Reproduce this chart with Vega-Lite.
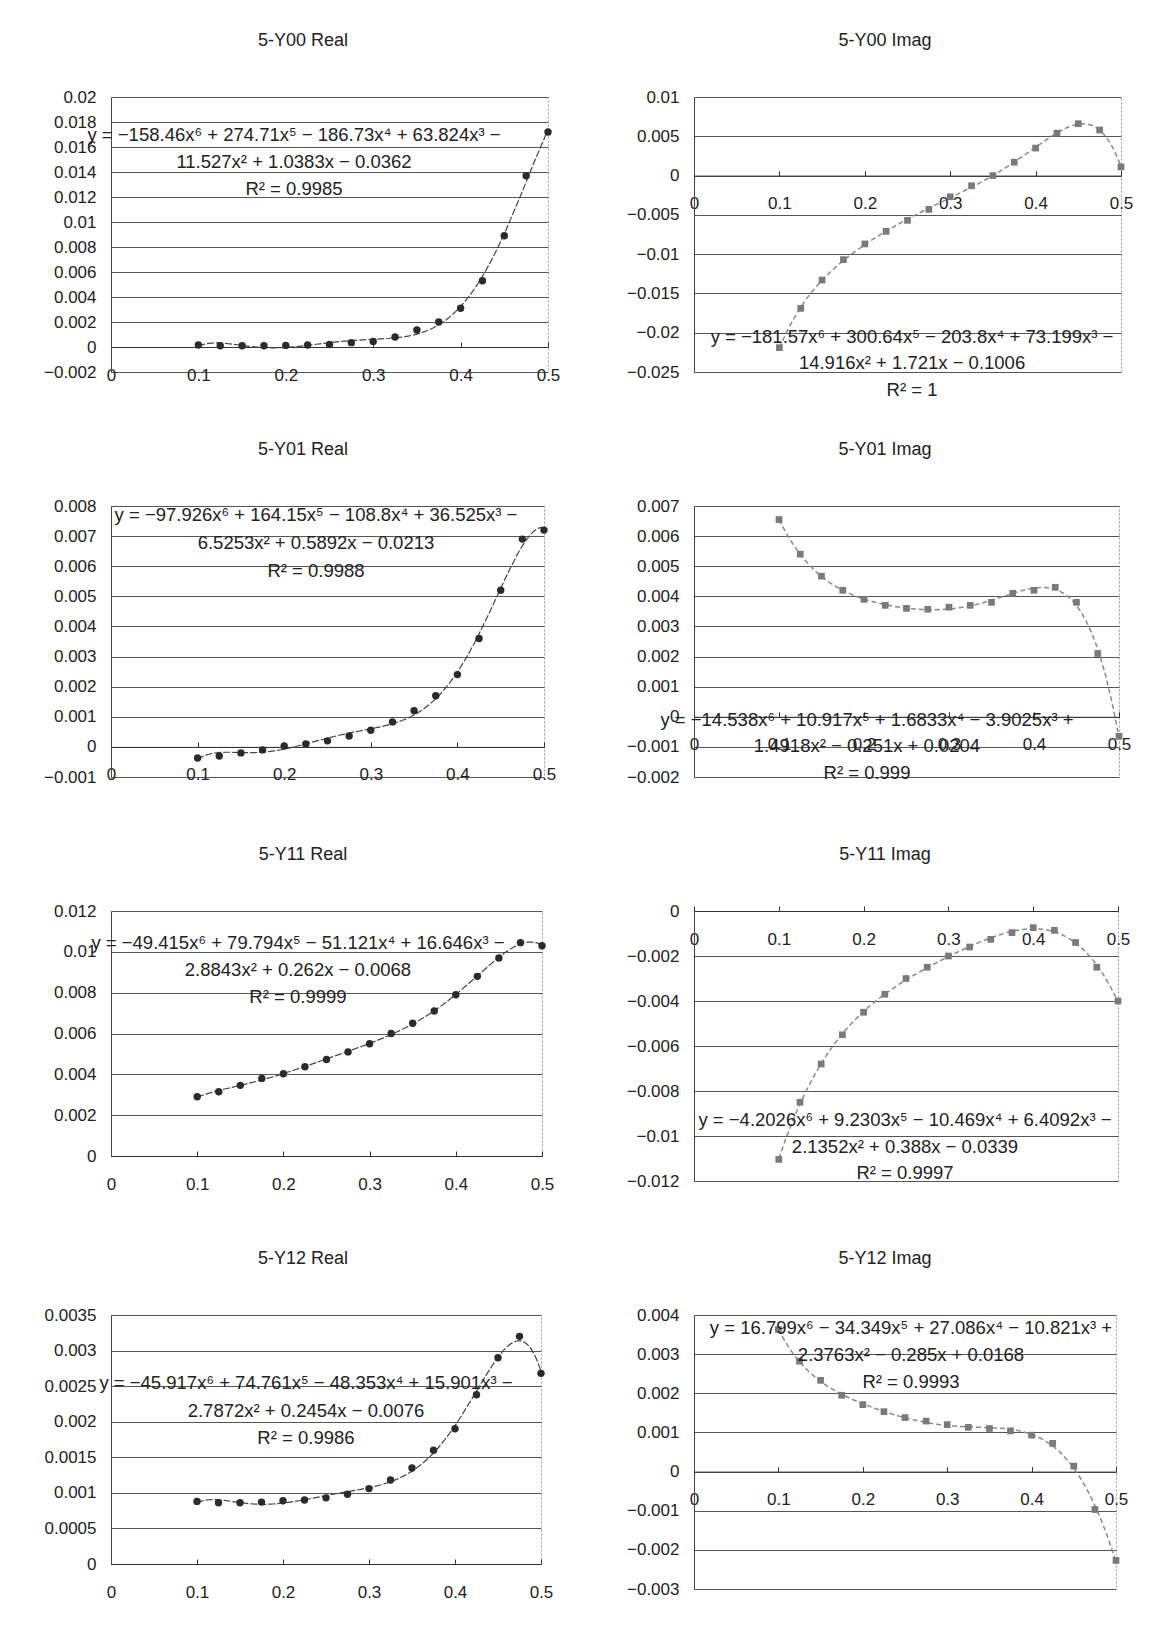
{
  "$schema": "https://vega.github.io/schema/vega-lite/v6.json",
  "autosize": {"type": "pad"},
  "padding": {"left": 0, "top": 31, "right": 5, "bottom": 5},
  "background": "white",
  "columns": 2,
  "bounds": "flush",
  "align": "each",
  "spacing": {"row": 134, "column": 146},
  "datasets": {
    "y00r": [{"x":0.1,"y":0.00016},{"x":0.125,"y":0.0001},{"x":0.15,"y":0.0001},{"x":0.175,"y":0.0001},{"x":0.2,"y":0.00013},{"x":0.225,"y":0.00016},{"x":0.25,"y":0.0002},{"x":0.275,"y":0.00035},{"x":0.3,"y":0.00045},{"x":0.325,"y":0.0008},{"x":0.35,"y":0.00136},{"x":0.375,"y":0.002},{"x":0.4,"y":0.0031},{"x":0.425,"y":0.0053},{"x":0.45,"y":0.0089},{"x":0.475,"y":0.0137},{"x":0.5,"y":0.0172}],
    "y00i": [{"x":0.1,"y":-0.0219},{"x":0.125,"y":-0.0169},{"x":0.15,"y":-0.0133},{"x":0.175,"y":-0.0107},{"x":0.2,"y":-0.0087},{"x":0.225,"y":-0.0071},{"x":0.25,"y":-0.0057},{"x":0.275,"y":-0.0043},{"x":0.3,"y":-0.0027},{"x":0.325,"y":-0.0013},{"x":0.35,"y":0.0},{"x":0.375,"y":0.0017},{"x":0.4,"y":0.0035},{"x":0.425,"y":0.0054},{"x":0.45,"y":0.0066},{"x":0.475,"y":0.0058},{"x":0.5,"y":0.0011}],
    "y01r": [{"x":0.1,"y":-0.00037},{"x":0.125,"y":-0.0003},{"x":0.15,"y":-0.0002},{"x":0.175,"y":-0.0001},{"x":0.2,"y":0.00003},{"x":0.225,"y":0.0001},{"x":0.25,"y":0.0002},{"x":0.275,"y":0.00036},{"x":0.3,"y":0.00055},{"x":0.325,"y":0.00083},{"x":0.35,"y":0.0012},{"x":0.375,"y":0.0017},{"x":0.4,"y":0.0024},{"x":0.425,"y":0.0036},{"x":0.45,"y":0.0052},{"x":0.475,"y":0.0069},{"x":0.5,"y":0.0072}],
    "y01i": [{"x":0.1,"y":0.00655},{"x":0.125,"y":0.0054},{"x":0.15,"y":0.00467},{"x":0.175,"y":0.0042},{"x":0.2,"y":0.0039},{"x":0.225,"y":0.0037},{"x":0.25,"y":0.0036},{"x":0.275,"y":0.00357},{"x":0.3,"y":0.00364},{"x":0.325,"y":0.0037},{"x":0.35,"y":0.0038},{"x":0.375,"y":0.0041},{"x":0.4,"y":0.0042},{"x":0.425,"y":0.0043},{"x":0.45,"y":0.0038},{"x":0.475,"y":0.0021},{"x":0.5,"y":-0.00065}],
    "y11r": [{"x":0.1,"y":0.0029},{"x":0.125,"y":0.00315},{"x":0.15,"y":0.00346},{"x":0.175,"y":0.0038},{"x":0.2,"y":0.00403},{"x":0.225,"y":0.00437},{"x":0.25,"y":0.00473},{"x":0.275,"y":0.0051},{"x":0.3,"y":0.0055},{"x":0.325,"y":0.006},{"x":0.35,"y":0.0065},{"x":0.375,"y":0.0071},{"x":0.4,"y":0.0079},{"x":0.425,"y":0.0088},{"x":0.45,"y":0.0097},{"x":0.475,"y":0.01045},{"x":0.5,"y":0.0103}],
    "y11i": [{"x":0.1,"y":-0.01104},{"x":0.125,"y":-0.0085},{"x":0.15,"y":-0.0068},{"x":0.175,"y":-0.0055},{"x":0.2,"y":-0.0045},{"x":0.225,"y":-0.0037},{"x":0.25,"y":-0.003},{"x":0.275,"y":-0.0025},{"x":0.3,"y":-0.002},{"x":0.325,"y":-0.0016},{"x":0.35,"y":-0.00126},{"x":0.375,"y":-0.00096},{"x":0.4,"y":-0.00074},{"x":0.425,"y":-0.00086},{"x":0.45,"y":-0.0014},{"x":0.475,"y":-0.0025},{"x":0.5,"y":-0.004}],
    "y12r": [{"x":0.1,"y":0.00088},{"x":0.125,"y":0.00086},{"x":0.15,"y":0.00086},{"x":0.175,"y":0.00087},{"x":0.2,"y":0.00089},{"x":0.225,"y":0.0009},{"x":0.25,"y":0.00093},{"x":0.275,"y":0.00098},{"x":0.3,"y":0.00106},{"x":0.325,"y":0.00118},{"x":0.35,"y":0.00135},{"x":0.375,"y":0.0016},{"x":0.4,"y":0.0019},{"x":0.425,"y":0.00238},{"x":0.45,"y":0.0029},{"x":0.475,"y":0.0032},{"x":0.5,"y":0.00268}],
    "y12i": [{"x":0.1,"y":0.00363},{"x":0.125,"y":0.00282},{"x":0.15,"y":0.00233},{"x":0.175,"y":0.00195},{"x":0.2,"y":0.00171},{"x":0.225,"y":0.00153},{"x":0.25,"y":0.00138},{"x":0.275,"y":0.00129},{"x":0.3,"y":0.0012},{"x":0.325,"y":0.00113},{"x":0.35,"y":0.0011},{"x":0.375,"y":0.00104},{"x":0.4,"y":0.00093},{"x":0.425,"y":0.00072},{"x":0.45,"y":0.00014},{"x":0.475,"y":-0.00097},{"x":0.5,"y":-0.00227}],
    "one": [{}]
  },
  "concat": [
    {
      "width": 437, "height": 275,
      "title": {"text": "5-Y00 Real", "dx": -26.5},
      "data": {"name": "y00r"},
      "layer": [
        {"transform": [{"regression": "y", "on": "x", "method": "poly", "order": 6}],
         "mark": {"type": "line", "color": "#444", "strokeWidth": 1.2, "strokeDash": [7, 2]},
         "encoding": {
           "x": {"field": "x", "type": "quantitative", "scale": {"domain": [0, 0.5], "nice": false, "zero": false}, "axis": {"title": null, "values": [0, 0.1, 0.2, 0.3, 0.4, 0.5], "tickCount": 50, "format": "~g", "offset": -25}},
           "y": {"field": "y", "type": "quantitative", "scale": {"domain": [-0.002, 0.02], "nice": false, "zero": false}, "axis": {"title": null, "values": [-0.002, 0, 0.002, 0.004, 0.006, 0.008, 0.01, 0.012, 0.014, 0.016, 0.018, 0.02], "tickCount": 50, "format": "~g", "minExtent": 110, "maxExtent": 110}}
         }},
        {"mark": {"type": "point", "shape": "circle", "filled": true, "color": "#2b2b2b", "size": 55, "opacity": 1},
         "encoding": {"x": {"field": "x", "type": "quantitative"}, "y": {"field": "y", "type": "quantitative"}}},
        {"data": {"name": "one"},
         "mark": {"type": "text", "align": "center", "baseline": "middle", "fontSize": 18.5, "lineHeight": 27, "color": "#222",
                  "text": ["y = −158.46x⁶ + 274.71x⁵ − 186.73x⁴ + 63.824x³ −", "11.527x² + 1.0383x − 0.0362", "R² = 0.9985"]},
         "encoding": {"x": {"datum": 0.2094}, "y": {"datum": 0.01696}}}
      ]
    },
    {
      "width": 427, "height": 275,
      "title": {"text": "5-Y00 Imag", "dx": -22.5},
      "data": {"name": "y00i"},
      "layer": [
        {"transform": [{"regression": "y", "on": "x", "method": "poly", "order": 6}],
         "mark": {"type": "line", "color": "#8a8a8a", "strokeWidth": 1.5, "strokeDash": [5, 3]},
         "encoding": {
           "x": {"field": "x", "type": "quantitative", "scale": {"domain": [0, 0.5], "nice": false, "zero": false}, "axis": {"title": null, "values": [0, 0.1, 0.2, 0.3, 0.4, 0.5], "tickCount": 50, "format": "~g", "offset": -196.4}},
           "y": {"field": "y", "type": "quantitative", "scale": {"domain": [-0.025, 0.01], "nice": false, "zero": false}, "axis": {"title": null, "values": [-0.025, -0.02, -0.015, -0.01, -0.005, 0, 0.005, 0.01], "tickCount": 50, "format": "~g"}}
         }},
        {"mark": {"type": "point", "shape": "square", "filled": true, "color": "#7a7a7a", "size": 45, "opacity": 1},
         "encoding": {"x": {"field": "x", "type": "quantitative"}, "y": {"field": "y", "type": "quantitative"}}},
        {"data": {"name": "one"},
         "mark": {"type": "text", "align": "center", "baseline": "middle", "fontSize": 18.5, "lineHeight": 26.5, "color": "#222",
                  "text": ["y = −181.57x⁶ + 300.64x⁵ − 203.8x⁴ + 73.199x³ −", "14.916x² + 1.721x − 0.1006", "R² = 1"]},
         "encoding": {"x": {"datum": 0.2553}, "y": {"datum": -0.020545}}}
      ]
    },
    {
      "width": 433, "height": 271,
      "title": {"text": "5-Y01 Real", "dx": -24.5},
      "data": {"name": "y01r"},
      "layer": [
        {"transform": [{"regression": "y", "on": "x", "method": "poly", "order": 6}],
         "mark": {"type": "line", "color": "#444", "strokeWidth": 1.2, "strokeDash": [7, 2]},
         "encoding": {
           "x": {"field": "x", "type": "quantitative", "scale": {"domain": [0, 0.5], "nice": false, "zero": false}, "axis": {"title": null, "values": [0, 0.1, 0.2, 0.3, 0.4, 0.5], "tickCount": 50, "format": "~g", "offset": -30.1}},
           "y": {"field": "y", "type": "quantitative", "scale": {"domain": [-0.001, 0.008], "nice": false, "zero": false}, "axis": {"title": null, "values": [-0.001, 0, 0.001, 0.002, 0.003, 0.004, 0.005, 0.006, 0.007, 0.008], "tickCount": 50, "format": "~g", "minExtent": 110, "maxExtent": 110}}
         }},
        {"mark": {"type": "point", "shape": "circle", "filled": true, "color": "#2b2b2b", "size": 55, "opacity": 1},
         "encoding": {"x": {"field": "x", "type": "quantitative"}, "y": {"field": "y", "type": "quantitative"}}},
        {"data": {"name": "one"},
         "mark": {"type": "text", "align": "center", "baseline": "middle", "fontSize": 18.5, "lineHeight": 28, "color": "#222",
                  "text": ["y = −97.926x⁶ + 164.15x⁵ − 108.8x⁴ + 36.525x³ −", "6.5253x² + 0.5892x − 0.0213", "R² = 0.9988"]},
         "encoding": {"x": {"datum": 0.2367}, "y": {"datum": 0.0077}}}
      ]
    },
    {
      "width": 425, "height": 271,
      "title": {"text": "5-Y01 Imag", "dx": -21.5},
      "data": {"name": "y01i"},
      "layer": [
        {"transform": [{"regression": "y", "on": "x", "method": "poly", "order": 6}],
         "mark": {"type": "line", "color": "#8a8a8a", "strokeWidth": 1.5, "strokeDash": [5, 3]},
         "encoding": {
           "x": {"field": "x", "type": "quantitative", "scale": {"domain": [0, 0.5], "nice": false, "zero": false}, "axis": {"title": null, "values": [0, 0.1, 0.2, 0.3, 0.4, 0.5], "tickCount": 50, "format": "~g", "offset": -60.2}},
           "y": {"field": "y", "type": "quantitative", "scale": {"domain": [-0.002, 0.007], "nice": false, "zero": false}, "axis": {"title": null, "values": [-0.002, -0.001, 0, 0.001, 0.002, 0.003, 0.004, 0.005, 0.006, 0.007], "tickCount": 50, "format": "~g"}}
         }},
        {"mark": {"type": "point", "shape": "square", "filled": true, "color": "#7a7a7a", "size": 45, "opacity": 1},
         "encoding": {"x": {"field": "x", "type": "quantitative"}, "y": {"field": "y", "type": "quantitative"}}},
        {"data": {"name": "one"},
         "mark": {"type": "text", "align": "center", "baseline": "middle", "fontSize": 18.5, "lineHeight": 26.5, "color": "#222",
                  "text": ["y = −14.538x⁶ + 10.917x⁵ + 1.6833x⁴ − 3.9025x³ +", "1.4918x² − 0.251x + 0.0204", "R² = 0.999"]},
         "encoding": {"x": {"datum": 0.2035}, "y": {"datum": -0.000107}}}
      ]
    },
    {
      "width": 431, "height": 245,
      "title": {"text": "5-Y11 Real", "dx": -23.5},
      "data": {"name": "y11r"},
      "layer": [
        {"transform": [{"regression": "y", "on": "x", "method": "poly", "order": 6}],
         "mark": {"type": "line", "color": "#444", "strokeWidth": 1.2, "strokeDash": [7, 2]},
         "encoding": {
           "x": {"field": "x", "type": "quantitative", "scale": {"domain": [0, 0.5], "nice": false, "zero": false}, "axis": {"title": null, "values": [0, 0.1, 0.2, 0.3, 0.4, 0.5], "tickCount": 50, "format": "~g", "offset": 0}},
           "y": {"field": "y", "type": "quantitative", "scale": {"domain": [0, 0.012], "nice": false, "zero": false}, "axis": {"title": null, "values": [0, 0.002, 0.004, 0.006, 0.008, 0.01, 0.012], "tickCount": 50, "format": "~g", "minExtent": 110, "maxExtent": 110}}
         }},
        {"mark": {"type": "point", "shape": "circle", "filled": true, "color": "#2b2b2b", "size": 55, "opacity": 1},
         "encoding": {"x": {"field": "x", "type": "quantitative"}, "y": {"field": "y", "type": "quantitative"}}},
        {"data": {"name": "one"},
         "mark": {"type": "text", "align": "center", "baseline": "middle", "fontSize": 18.5, "lineHeight": 27, "color": "#222",
                  "text": ["y = −49.415x⁶ + 79.794x⁵ − 51.121x⁴ + 16.646x³ −", "2.8843x² + 0.262x − 0.0068", "R² = 0.9999"]},
         "encoding": {"x": {"datum": 0.2169}, "y": {"datum": 0.010433}}}
      ]
    },
    {
      "width": 424, "height": 270,
      "title": {"text": "5-Y11 Imag", "dx": -21},
      "data": {"name": "y11i"},
      "layer": [
        {"transform": [{"regression": "y", "on": "x", "method": "poly", "order": 6}],
         "mark": {"type": "line", "color": "#8a8a8a", "strokeWidth": 1.5, "strokeDash": [5, 3]},
         "encoding": {
           "x": {"field": "x", "type": "quantitative", "scale": {"domain": [0, 0.5], "nice": false, "zero": false}, "axis": {"title": null, "values": [0, 0.1, 0.2, 0.3, 0.4, 0.5], "tickCount": 50, "format": "~g", "offset": -270}},
           "y": {"field": "y", "type": "quantitative", "scale": {"domain": [-0.012, 0], "nice": false, "zero": false}, "axis": {"title": null, "values": [-0.012, -0.01, -0.008, -0.006, -0.004, -0.002, 0], "tickCount": 50, "format": "~g"}}
         }},
        {"mark": {"type": "point", "shape": "square", "filled": true, "color": "#7a7a7a", "size": 45, "opacity": 1},
         "encoding": {"x": {"field": "x", "type": "quantitative"}, "y": {"field": "y", "type": "quantitative"}}},
        {"data": {"name": "one"},
         "mark": {"type": "text", "align": "center", "baseline": "middle", "fontSize": 18.5, "lineHeight": 26.5, "color": "#222",
                  "text": ["y = −4.2026x⁶ + 9.2303x⁵ − 10.469x⁴ + 6.4092x³ −", "2.1352x² + 0.388x − 0.0339", "R² = 0.9997"]},
         "encoding": {"x": {"datum": 0.2488}, "y": {"datum": -0.009289}}}
      ]
    },
    {
      "width": 430, "height": 249,
      "title": {"text": "5-Y12 Real", "dx": -23},
      "data": {"name": "y12r"},
      "layer": [
        {"transform": [{"regression": "y", "on": "x", "method": "poly", "order": 6}],
         "mark": {"type": "line", "color": "#444", "strokeWidth": 1.2, "strokeDash": [7, 2]},
         "encoding": {
           "x": {"field": "x", "type": "quantitative", "scale": {"domain": [0, 0.5], "nice": false, "zero": false}, "axis": {"title": null, "values": [0, 0.1, 0.2, 0.3, 0.4, 0.5], "tickCount": 50, "format": "~g", "offset": 0}},
           "y": {"field": "y", "type": "quantitative", "scale": {"domain": [0, 0.0035], "nice": false, "zero": false}, "axis": {"title": null, "values": [0, 0.0005, 0.001, 0.0015, 0.002, 0.0025, 0.003, 0.0035], "tickCount": 50, "format": "~g", "minExtent": 110, "maxExtent": 110}}
         }},
        {"mark": {"type": "point", "shape": "circle", "filled": true, "color": "#2b2b2b", "size": 55, "opacity": 1},
         "encoding": {"x": {"field": "x", "type": "quantitative"}, "y": {"field": "y", "type": "quantitative"}}},
        {"data": {"name": "one"},
         "mark": {"type": "text", "align": "center", "baseline": "middle", "fontSize": 18.5, "lineHeight": 27.5, "color": "#222",
                  "text": ["y = −45.917x⁶ + 74.761x⁵ − 48.353x⁴ + 15.901x³ −", "2.7872x² + 0.2454x − 0.0076", "R² = 0.9986"]},
         "encoding": {"x": {"datum": 0.2267}, "y": {"datum": 0.002544}}}
      ]
    },
    {
      "width": 422, "height": 274,
      "title": {"text": "5-Y12 Imag", "dx": -20},
      "data": {"name": "y12i"},
      "layer": [
        {"transform": [{"regression": "y", "on": "x", "method": "poly", "order": 6}],
         "mark": {"type": "line", "color": "#8a8a8a", "strokeWidth": 1.5, "strokeDash": [5, 3]},
         "encoding": {
           "x": {"field": "x", "type": "quantitative", "scale": {"domain": [0, 0.5], "nice": false, "zero": false}, "axis": {"title": null, "values": [0, 0.1, 0.2, 0.3, 0.4, 0.5], "tickCount": 50, "format": "~g", "offset": -117.4}},
           "y": {"field": "y", "type": "quantitative", "scale": {"domain": [-0.003, 0.004], "nice": false, "zero": false}, "axis": {"title": null, "values": [-0.003, -0.002, -0.001, 0, 0.001, 0.002, 0.003, 0.004], "tickCount": 50, "format": "~g"}}
         }},
        {"mark": {"type": "point", "shape": "square", "filled": true, "color": "#7a7a7a", "size": 45, "opacity": 1},
         "encoding": {"x": {"field": "x", "type": "quantitative"}, "y": {"field": "y", "type": "quantitative"}}},
        {"data": {"name": "one"},
         "mark": {"type": "text", "align": "center", "baseline": "middle", "fontSize": 18.5, "lineHeight": 27, "color": "#222",
                  "text": ["y = 16.799x⁶ − 34.349x⁵ + 27.086x⁴ − 10.821x³ +", "2.3763x² − 0.285x + 0.0168", "R² = 0.9993"]},
         "encoding": {"x": {"datum": 0.2571}, "y": {"datum": 0.003668}}}
      ]
    }
  ],
  "config": {
    "font": "Liberation Sans",
    "view": {"stroke": "#9a9a9a", "strokeDash": [2, 2], "strokeWidth": 1},
    "axis": {"labelFont": "Liberation Sans", "labelFontSize": 17, "labelColor": "#222", "labelOverlap": false},
    "axisY": {"grid": true, "gridColor": "#555", "gridWidth": 1, "ticks": false, "labelPadding": 15, "domain": true, "domainColor": "#444", "labelFlush": false},
    "axisX": {"grid": false, "domain": true, "domainColor": "#333", "ticks": true, "tickColor": "#333", "tickSize": -5, "labelBaseline": "middle", "labelPadding": 33, "labelFlush": false},
    "title": {"font": "Liberation Sans", "fontSize": 18, "fontWeight": "normal", "color": "#222", "offset": 38, "frame": "group", "anchor": "middle"}
  }
}
